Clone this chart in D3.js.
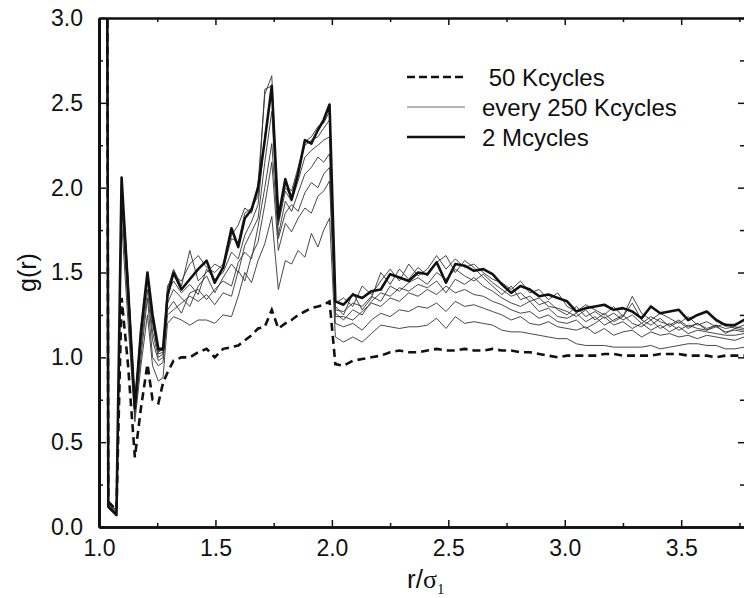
<!DOCTYPE html>
<html>
<head>
<meta charset="UTF-8">
<title>g(r)</title>
<script src="https://d3js.org/d3.v7.min.js"></script>
<style>
  body { margin: 0; background: #fff; }
  text { font-family: "Liberation Sans", Arial, Helvetica, sans-serif; fill: #111; }
  .axis path, .axis line { stroke: #111; }
</style>
</head>
<body>
<div id="chart"></div>
<script>
// r / sigma_1 grid shared by all curves
const rVals = [1.035, 1.04, 1.075, 1.097, 1.125, 1.154, 1.18, 1.208, 1.23, 1.255, 1.275, 1.294, 1.32, 1.354, 1.39, 1.426, 1.462, 1.497, 1.533, 1.569,
  1.598, 1.626, 1.655, 1.683, 1.712, 1.742, 1.77, 1.80, 1.827, 1.855, 1.884, 1.912, 1.94, 1.965, 1.99, 2.015,
  2.05, 2.09, 2.13, 2.17, 2.21, 2.25, 2.29, 2.33, 2.37, 2.41, 2.45, 2.49, 2.53, 2.57, 2.61, 2.65, 2.69, 2.73, 2.77, 2.81,
  2.85, 2.89, 2.93, 2.97, 3.01, 3.05, 3.09, 3.13, 3.17, 3.21, 3.25, 3.29, 3.33, 3.37, 3.41, 3.45, 3.49, 3.53, 3.57, 3.61,
  3.65, 3.69, 3.73, 3.77, 3.81];

// 50 Kcycles (dashed)
const g50k = [3.6, 0.15, 0.10, 1.35, 0.95, 0.41, 0.70, 0.96, 0.75, 0.73, 0.85, 0.91, 0.98, 1.00, 1.00, 1.03, 1.05, 1.00, 1.05, 1.06,
  1.07, 1.10, 1.13, 1.17, 1.18, 1.28, 1.17, 1.20, 1.22, 1.25, 1.27, 1.29, 1.30, 1.31, 1.33, 0.96,
  0.95, 0.98, 0.99, 1.00, 1.01, 1.03, 1.04, 1.03, 1.03, 1.04, 1.05, 1.04, 1.04, 1.05, 1.04, 1.04, 1.05, 1.04, 1.04, 1.03,
  1.03, 1.02, 1.01, 1.00, 1.01, 1.01, 1.01, 1.01, 1.02, 1.02, 1.01, 1.01, 1.01, 1.01, 1.02, 1.02, 1.02, 1.01, 1.01, 1.01,
  1.00, 1.01, 1.01, 1.01, 1.01];

// every 250 Kcycles (thin)
const g250k = [3.6, 0.14, 0.09, 1.80, 1.20, 0.62, 0.95, 1.25, 0.95, 0.86, 0.88, 1.20, 1.24, 1.22, 1.19, 1.22, 1.22, 1.20, 1.25, 1.24,
  1.36, 1.50, 1.44, 1.57, 1.67, 1.83, 1.40, 1.57, 1.55, 1.63, 1.59, 1.73, 1.65, 1.75, 1.82, 1.12,
  1.09, 1.12, 1.09, 1.14, 1.19, 1.18, 1.17, 1.18, 1.18, 1.19, 1.23, 1.17, 1.24, 1.20, 1.21, 1.20, 1.19, 1.16, 1.15, 1.15,
  1.14, 1.13, 1.12, 1.11, 1.11, 1.08, 1.07, 1.07, 1.07, 1.06, 1.06, 1.06, 1.06, 1.07, 1.05, 1.06, 1.07, 1.08, 1.08, 1.07,
  1.07, 1.05, 1.05, 1.06, 1.06];
const g500k = [3.6, 0.13, 0.08, 1.90, 1.30, 0.66, 1.00, 1.35, 1.00, 0.95, 0.97, 1.25, 1.28, 1.32, 1.36, 1.33, 1.37, 1.31, 1.38, 1.36,
  1.51, 1.45, 1.60, 1.68, 1.90, 2.15, 1.63, 1.79, 1.74, 1.82, 1.88, 1.85, 1.95, 1.98, 2.04, 1.20,
  1.18, 1.20, 1.16, 1.22, 1.26, 1.24, 1.28, 1.27, 1.30, 1.29, 1.32, 1.27, 1.33, 1.30, 1.31, 1.29, 1.27, 1.25, 1.22, 1.24,
  1.20, 1.19, 1.21, 1.18, 1.17, 1.16, 1.18, 1.14, 1.17, 1.13, 1.15, 1.16, 1.12, 1.15, 1.13, 1.14, 1.12, 1.13, 1.11, 1.13,
  1.12, 1.11, 1.10, 1.12, 1.12];
const g750k = [3.6, 0.12, 0.08, 1.95, 1.35, 0.68, 1.05, 1.40, 1.10, 0.98, 1.00, 1.28, 1.33, 1.26, 1.38, 1.40, 1.34, 1.40, 1.45, 1.42,
  1.56, 1.62, 1.58, 1.77, 2.00, 2.26, 1.70, 1.85, 1.90, 1.86, 1.97, 2.03, 2.00, 2.08, 2.12, 1.24,
  1.24, 1.22, 1.27, 1.32, 1.30, 1.35, 1.33, 1.38, 1.36, 1.40, 1.37, 1.42, 1.38, 1.40, 1.37, 1.36, 1.33, 1.31, 1.28, 1.26,
  1.27, 1.23, 1.25, 1.21, 1.20, 1.22, 1.17, 1.20, 1.24, 1.19, 1.21, 1.17, 1.20, 1.16, 1.19, 1.15, 1.18, 1.14, 1.16, 1.15,
  1.14, 1.13, 1.13, 1.14, 1.14];
const g1000k = [3.6, 0.11, 0.07, 2.00, 1.38, 0.70, 1.10, 1.45, 1.15, 1.00, 1.02, 1.32, 1.40, 1.35, 1.30, 1.42, 1.48, 1.38, 1.47, 1.55,
  1.50, 1.66, 1.74, 1.82, 2.15, 2.45, 1.72, 1.92, 1.86, 1.97, 2.08, 2.12, 2.18, 2.15, 2.20, 1.26,
  1.22, 1.28, 1.25, 1.33, 1.38, 1.36, 1.41, 1.39, 1.43, 1.41, 1.45, 1.38, 1.46, 1.43, 1.47, 1.42, 1.39, 1.35, 1.32, 1.30,
  1.33, 1.27, 1.29, 1.24, 1.23, 1.26, 1.21, 1.24, 1.19, 1.22, 1.25, 1.20, 1.18, 1.22, 1.17, 1.20, 1.16, 1.19, 1.17, 1.16,
  1.18, 1.15, 1.16, 1.15, 1.15];
const g1250k = [3.6, 0.12, 0.08, 1.98, 1.42, 0.72, 1.12, 1.48, 1.20, 1.02, 1.03, 1.38, 1.45, 1.38, 1.43, 1.37, 1.52, 1.46, 1.50, 1.62,
  1.58, 1.72, 1.80, 1.90, 2.30, 2.58, 1.78, 1.98, 1.92, 2.04, 2.18, 2.22, 2.25, 2.28, 2.30, 1.28,
  1.27, 1.32, 1.30, 1.36, 1.33, 1.42, 1.39, 1.44, 1.47, 1.43, 1.50, 1.46, 1.52, 1.48, 1.45, 1.49, 1.44, 1.40, 1.36, 1.38,
  1.33, 1.35, 1.30, 1.29, 1.27, 1.24, 1.28, 1.22, 1.26, 1.21, 1.24, 1.32, 1.22, 1.19, 1.23, 1.18, 1.21, 1.17, 1.20, 1.16,
  1.19, 1.14, 1.17, 1.16, 1.16];
const g1500k = [3.6, 0.13, 0.09, 2.04, 1.45, 0.74, 1.15, 1.50, 1.22, 1.03, 1.05, 1.40, 1.52, 1.42, 1.63, 1.45, 1.50, 1.55, 1.52, 1.70,
  1.68, 1.85, 1.88, 1.95, 2.58, 2.60, 1.85, 2.00, 1.95, 2.10, 2.25, 2.28, 2.30, 2.35, 2.40, 1.30,
  1.25, 1.38, 1.28, 1.35, 1.50, 1.43, 1.52, 1.46, 1.53, 1.48, 1.56, 1.60, 1.50, 1.57, 1.53, 1.47, 1.42, 1.37, 1.42, 1.34,
  1.36, 1.31, 1.33, 1.28, 1.25, 1.30, 1.24, 1.27, 1.23, 1.26, 1.22, 1.25, 1.20, 1.24, 1.21, 1.19, 1.22, 1.18, 1.20, 1.17,
  1.19, 1.17, 1.18, 1.17, 1.17];
const g1750k = [3.6, 0.14, 0.10, 2.05, 1.46, 0.73, 1.18, 1.49, 1.25, 1.04, 1.04, 1.42, 1.48, 1.45, 1.55, 1.60, 1.53, 1.50, 1.55, 1.72,
  1.78, 1.88, 1.85, 2.02, 2.55, 2.66, 1.80, 2.02, 1.98, 2.12, 2.27, 2.30, 2.36, 2.38, 2.45, 1.32,
  1.35, 1.30, 1.42, 1.37, 1.45, 1.52, 1.45, 1.55, 1.48, 1.52, 1.60, 1.52, 1.58, 1.53, 1.55, 1.50, 1.46, 1.44, 1.40, 1.45,
  1.38, 1.40, 1.34, 1.38, 1.30, 1.27, 1.31, 1.28, 1.25, 1.30, 1.24, 1.36, 1.26, 1.22, 1.26, 1.23, 1.20, 1.24, 1.19, 1.21,
  1.18, 1.20, 1.17, 1.19, 1.19];

// 2 Mcycles (thick)
const g2M = [3.6, 0.12, 0.07, 2.06, 1.40, 0.70, 1.15, 1.50, 1.25, 1.05, 1.05, 1.36, 1.50, 1.40, 1.46, 1.52, 1.57, 1.44, 1.53, 1.76,
  1.65, 1.82, 1.87, 2.00, 2.28, 2.60, 1.82, 2.05, 1.93, 2.08, 2.28, 2.26, 2.34, 2.40, 2.49, 1.33,
  1.31, 1.37, 1.35, 1.39, 1.40, 1.49, 1.47, 1.45, 1.50, 1.49, 1.56, 1.44, 1.55, 1.54, 1.51, 1.52, 1.49, 1.43, 1.38, 1.42,
  1.40, 1.36, 1.37, 1.35, 1.33, 1.27, 1.29, 1.30, 1.31, 1.28, 1.29, 1.27, 1.23, 1.30, 1.26, 1.27, 1.28, 1.22, 1.25, 1.27,
  1.22, 1.19, 1.19, 1.22, 1.23];

const xMajor = [1.0, 1.5, 2.0, 2.5, 3.0, 3.5];
const xMinor = [1.25, 1.75, 2.25, 2.75, 3.25, 3.75];
const yMajor = [0.0, 0.5, 1.0, 1.5, 2.0, 2.5, 3.0];
const yMinor = [0.25, 0.75, 1.25, 1.75, 2.25, 2.75];
const legendLabels = [" 50 Kcycles", "every 250 Kcycles", "2 Mcycles"];

const width = 744, height = 598;
const mLeft = 99, mRight = 745, mTop = 18, mBottom = 527;

const svg = d3.select("#chart").append("svg")
  .attr("width", width)
  .attr("height", height);

const x = d3.scaleLinear().domain([1.0, 3.774]).range([mLeft, mRight]);
const y = d3.scaleLinear().domain([0, 3.0]).range([mBottom, mTop]);

svg.append("clipPath").attr("id", "plotClip")
  .append("rect")
  .attr("x", mLeft).attr("y", mTop)
  .attr("width", mRight - mLeft).attr("height", mBottom - mTop);

const line = d3.line()
  .x((d, i) => x(rVals[i]))
  .y(d => y(d));

const plot = svg.append("g").attr("clip-path", "url(#plotClip)");

const thinSeries = [g250k, g500k, g750k, g1000k, g1250k, g1500k, g1750k];
thinSeries.forEach(s => {
  plot.append("path")
    .datum(s)
    .attr("d", line)
    .attr("fill", "none")
    .attr("stroke", "#333")
    .attr("stroke-width", 0.9)
    .attr("stroke-linejoin", "round");
});

plot.append("path")
  .datum(g50k)
  .attr("d", line)
  .attr("fill", "none")
  .attr("stroke", "#111")
  .attr("stroke-width", 2.6)
  .attr("stroke-dasharray", "8,5");

plot.append("path")
  .datum(g2M)
  .attr("d", line)
  .attr("fill", "none")
  .attr("stroke", "#111")
  .attr("stroke-width", 2.6)
  .attr("stroke-linejoin", "round");

// axes: ticks point into the plot
function styleAxis(g, w) {
  g.attr("class", "axis");
  g.select(".domain").attr("stroke-width", w);
  g.selectAll(".tick line").attr("stroke-width", 1.5);
  g.selectAll("text").attr("font-size", 23).attr("fill", "#111");
}

svg.append("g")
  .attr("transform", `translate(0,${mBottom})`)
  .call(d3.axisBottom(x).tickValues(xMajor).tickSize(-7).tickSizeOuter(0).tickPadding(13).tickFormat(d3.format(".1f")))
  .call(g => styleAxis(g, 2.5));
svg.append("g")
  .attr("transform", `translate(0,${mBottom})`)
  .call(d3.axisBottom(x).tickValues(xMinor).tickSize(-4).tickSizeOuter(0).tickFormat(""))
  .call(g => styleAxis(g, 2.5));

svg.append("g")
  .attr("transform", `translate(0,${mTop})`)
  .call(d3.axisTop(x).tickValues(xMajor).tickSize(-7).tickSizeOuter(0).tickFormat(""))
  .call(g => styleAxis(g, 2));
svg.append("g")
  .attr("transform", `translate(0,${mTop})`)
  .call(d3.axisTop(x).tickValues(xMinor).tickSize(-4).tickSizeOuter(0).tickFormat(""))
  .call(g => styleAxis(g, 2));

svg.append("g")
  .attr("transform", `translate(${mLeft},0)`)
  .call(d3.axisLeft(y).tickValues(yMajor).tickSize(-7).tickSizeOuter(0).tickPadding(16).tickFormat(d3.format(".1f")))
  .call(g => styleAxis(g, 2.8));
svg.append("g")
  .attr("transform", `translate(${mLeft},0)`)
  .call(d3.axisLeft(y).tickValues(yMinor).tickSize(-4).tickSizeOuter(0).tickFormat(""))
  .call(g => styleAxis(g, 2.8));

svg.append("g")
  .attr("transform", `translate(${mRight - 1},0)`)
  .call(d3.axisRight(y).tickValues(yMajor).tickSize(-6).tickSizeOuter(0).tickFormat(""))
  .call(g => styleAxis(g, 0));
svg.append("g")
  .attr("transform", `translate(${mRight - 1},0)`)
  .call(d3.axisRight(y).tickValues(yMinor).tickSize(-4).tickSizeOuter(0).tickFormat(""))
  .call(g => styleAxis(g, 0));

// axis titles
svg.append("text")
  .attr("transform", `translate(36,${(mTop + mBottom) / 2}) rotate(-90)`)
  .attr("text-anchor", "middle")
  .attr("font-size", 25)
  .text("g(r)");

const xt = svg.append("text")
  .attr("x", 407)
  .attr("y", 588)
  .attr("font-size", 26);
xt.append("tspan").text("r/");
xt.append("tspan").attr("font-family", "'Liberation Serif', 'DejaVu Serif', serif").text("σ");
xt.append("tspan").attr("font-family", "'Liberation Serif', serif").attr("font-size", 15).attr("dy", 6).text("1");

// legend
const legend = svg.append("g");
const legendStyles = [
  { w: 2.6, dash: "8,4", color: "#111" },
  { w: 0.9, dash: null, color: "#555" },
  { w: 2.6, dash: null, color: "#111" }
];
legendLabels.forEach((label, i) => {
  const ly = 77 + i * 30;
  legend.append("line")
    .attr("x1", 407).attr("x2", 465)
    .attr("y1", ly).attr("y2", ly)
    .attr("stroke", legendStyles[i].color)
    .attr("stroke-width", legendStyles[i].w)
    .attr("stroke-dasharray", legendStyles[i].dash);
  legend.append("text")
    .attr("x", 482)
    .attr("y", ly + 8.5)
    .attr("font-size", 24)
    .attr("xml:space", "preserve")
    .style("white-space", "pre")
    .text(label);
});
</script>
</body>
</html>
